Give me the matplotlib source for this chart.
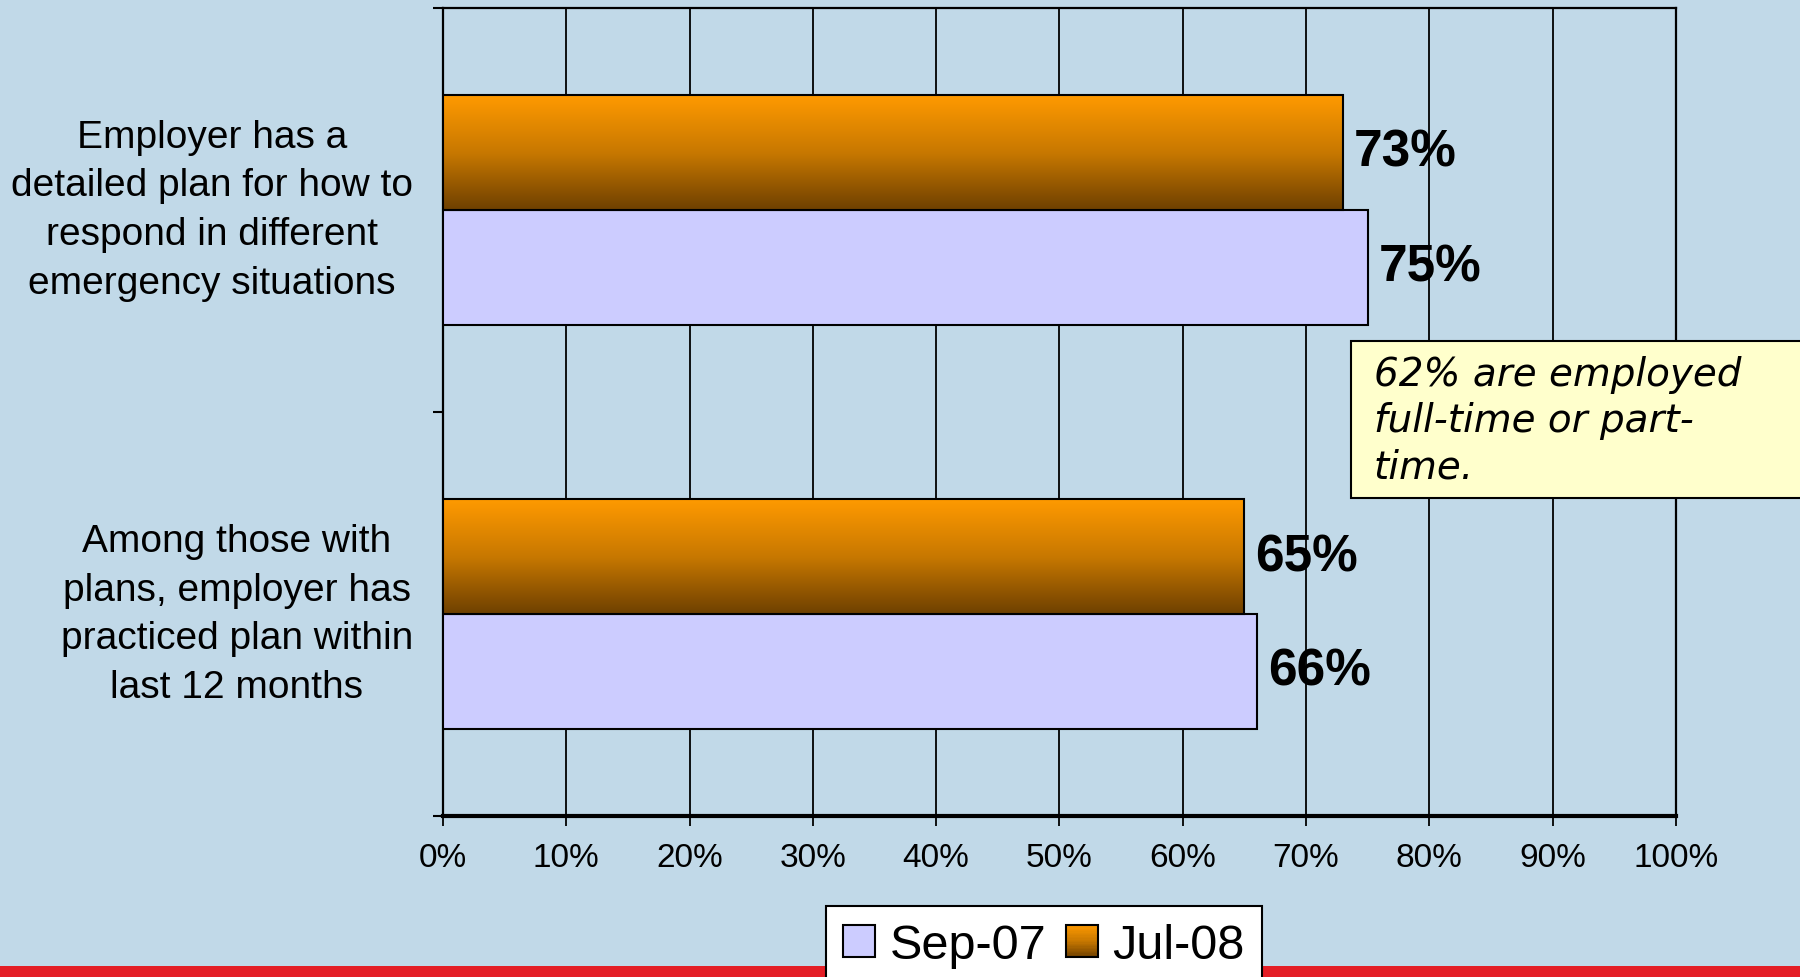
import numpy as np
import matplotlib.pyplot as plt
from matplotlib.patches import Rectangle
from matplotlib.legend_handler import HandlerBase
from matplotlib.colors import LinearSegmentedColormap

# data
categories = ['Among those with\nplans, employer has\npracticed plan within\nlast 12 months',
              'Employer has a\ndetailed plan for how to\nrespond in different\nemergency situations']
sep07 = [66, 75]
jul08 = [65, 73]
series_names = ['Sep-07', 'Jul-08']
xticks = [0, 10, 20, 30, 40, 50, 60, 70, 80, 90, 100]
note = '62% are employed\nfull-time or part-\ntime.'

bg = '#C1D9E8'
lavender = '#CCCCFF'
orange_cmap = LinearSegmentedColormap.from_list('org', ['#6E4000', '#C87800', '#FF9A00'])
sans = ['Liberation Sans', 'DejaVu Sans']

fig = plt.figure(figsize=(18, 9.78), dpi=100, facecolor=bg)
ax = fig.add_axes([0.2461, 0.1646, 0.685, 0.8264])
ax.set_facecolor(bg)

y = np.arange(len(categories))
h = 0.284
bars_sep = ax.barh(y - h / 2, sep07, height=h, color=lavender, edgecolor='black', lw=1.5, zorder=3)
bars_jul = ax.barh(y + h / 2, jul08, height=h, color='none', edgecolor='black', lw=1.5, zorder=4)

# gradient fill for the orange bars
grad = np.linspace(1, 0, 256).reshape(-1, 1)
for b in bars_jul:
    x0, y0, w, hh = b.get_x(), b.get_y(), b.get_width(), b.get_height()
    ax.imshow(grad, extent=[x0, x0 + w, y0, y0 + hh], aspect='auto', cmap=orange_cmap,
              vmin=0, vmax=1, zorder=3)

ax.set_xlim(0, 100)
ax.set_ylim(-0.5, 1.5)

ax.bar_label(bars_sep, labels=[f'{v}%' for v in sep07], padding=8, fontsize=37,
             fontweight='bold', family=sans)
ax.bar_label(bars_jul, labels=[f'{v}%' for v in jul08], padding=8, fontsize=37,
             fontweight='bold', family=sans)

ax.set_xticks(xticks)
ax.set_xticklabels([f'{v}%' for v in xticks], fontsize=24, family=sans)
ax.tick_params(axis='x', direction='out', length=7, width=1.3, pad=12, color='black')
ax.set_yticks([-0.5, 0.5, 1.5])
ax.set_yticklabels([])
ax.tick_params(axis='y', direction='out', length=7, width=1.5, color='black')
ax.grid(axis='x', color='black', lw=1.3)
ax.set_axisbelow(True)

for side in ['left', 'top', 'right']:
    ax.spines[side].set_color('black')
    ax.spines[side].set_linewidth(1.6)
ax.spines['bottom'].set_linewidth(3)

for yi, label in zip(y, categories):
    ax.text(-0.0245, yi, label, transform=ax.get_yaxis_transform(), ha='right', va='center',
            multialignment='center', fontsize=28, family=sans, linespacing=1.46)

# red strip at the bottom
fig.patches.append(Rectangle((0, 0), 1, 11 / 978, transform=fig.transFigure,
                             facecolor='#E41E26', edgecolor='none', zorder=1))

# note box
fig.patches.append(Rectangle((1351 / 1800, 1 - 499 / 978), 0.3, 157 / 978, transform=fig.transFigure,
                             facecolor='#FFFFCC', edgecolor='black', lw=1.5, zorder=2))
fig.text(1374 / 1800, 1 - 421 / 978, note, fontsize=28, style='italic', family='DejaVu Sans',
         va='center', ha='left', linespacing=1.27, zorder=3)


class GradientHandler(HandlerBase):
    def create_artists(self, legend, orig_handle, xdescent, ydescent, width, height, fontsize, trans):
        n = 24
        arts = []
        for i in range(n):
            c = orange_cmap(1 - (i + 0.5) / n)
            arts.append(Rectangle((-xdescent, -ydescent + height * (1 - (i + 1) / n)), width, height / n,
                                  facecolor=c, edgecolor='none', transform=trans))
        arts.append(Rectangle((-xdescent, -ydescent), width, height, facecolor='none',
                              edgecolor='black', lw=1.5, transform=trans))
        return arts


h_sep = Rectangle((0, 0), 1, 1, facecolor=lavender, edgecolor='black', lw=1.5)
h_jul = Rectangle((0, 0), 1, 1, facecolor='none', edgecolor='black')
leg = fig.legend([h_sep, h_jul], series_names, loc='upper center', bbox_to_anchor=(1044 / 1800, 1 - 907 / 978),
                 ncol=2, prop={'family': sans, 'size': 35},
                 handler_map={h_jul: GradientHandler()},
                 handlelength=0.66, handleheight=0.66, handletextpad=0.3, columnspacing=0.4,
                 borderaxespad=0, borderpad=0.35, fancybox=False, framealpha=1, edgecolor='black')
leg.get_frame().set_linewidth(1.5)

fig.savefig('out.png', dpi=100, facecolor=bg)
